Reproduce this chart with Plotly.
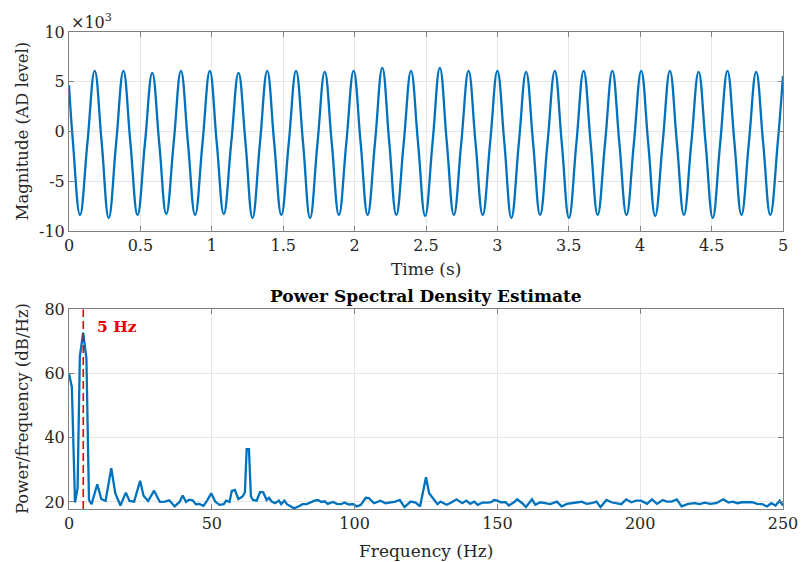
import plotly.graph_objects as go

# ---------------- data ----------------
# time signal: key points (troughs, crossings, peaks) in seconds / AD level
time_s = [0.000, 0.028,
          0.077, 0.129, 0.180, 0.229, 0.278, 0.330, 0.381, 0.430,
          0.480, 0.532, 0.583, 0.632, 0.681, 0.733, 0.784, 0.833,
          0.883, 0.935, 0.986, 1.035, 1.084, 1.136, 1.187, 1.236,
          1.285, 1.337, 1.388, 1.437, 1.487, 1.539, 1.590, 1.639,
          1.688, 1.740, 1.791, 1.840, 1.890, 1.942, 1.993, 2.042,
          2.091, 2.143, 2.194, 2.243, 2.292, 2.344, 2.395, 2.444,
          2.494, 2.546, 2.597, 2.646, 2.695, 2.747, 2.798, 2.847,
          2.897, 2.949, 3.000, 3.049, 3.098, 3.150, 3.201, 3.250,
          3.299, 3.351, 3.402, 3.451, 3.501, 3.553, 3.604, 3.653,
          3.702, 3.754, 3.805, 3.854, 3.904, 3.956, 4.007, 4.056,
          4.105, 4.157, 4.208, 4.257, 4.306, 4.358, 4.409, 4.458,
          4.508, 4.560, 4.611, 4.660, 4.709, 4.761, 4.812, 4.861,
          4.911, 4.963, 5.000]
magnitude = [4640, -1150,
             -8400, -1150, 6100, -1150, -8700, -1200, 6100, -1150,
             -8400, -1150, 5900, -1200, -8300, -1150, 6100, -1150,
             -8400, -1150, 6100, -1200, -8300, -1150, 5900, -1150,
             -8700, -1200, 6100, -1150, -8400, -1150, 6100, -1150,
             -8700, -1200, 6000, -1150, -8400, -1150, 6100, -1100,
             -8400, -1100, 6400, -1150, -8400, -1150, 6100, -1100,
             -8500, -1100, 6400, -1150, -8400, -1150, 6100, -1150,
             -8400, -1150, 6100, -1200, -8700, -1200, 6000, -1150,
             -8400, -1150, 6100, -1200, -8700, -1200, 6100, -1150,
             -8400, -1150, 6100, -1150, -8400, -1150, 6100, -1150,
             -8500, -1200, 6100, -1150, -8400, -1150, 6000, -1200,
             -8700, -1200, 6100, -1150, -8400, -1150, 6000, -1150,
             -8400, -1150, 5600]

# PSD estimate: frequency (Hz) / power (dB/Hz)
freq_hz = [0.0, 1.0, 2.1, 3.0, 3.8, 4.95, 6.1, 7.0, 7.9, 9.9, 11.3, 12.8, 14.8,
           16.2, 18.0, 19.9, 21.2, 22.8, 24.9, 26.1, 27.7, 29.8, 31.8, 33.6,
           35.1, 37.0, 38.7, 39.8, 41.0, 42.1, 43.3, 44.4, 45.6, 47.1, 48.4,
           49.8, 51.2, 52.7, 54.2, 55.0, 56.2, 57.0, 58.1, 59.3, 60.8, 61.6,
           62.2, 63.0, 63.7, 64.4, 65.7, 66.9, 68.0, 69.2, 70.0, 70.9, 72.1,
           73.5, 74.3, 75.4, 76.3, 77.5, 78.8, 80.3, 81.8, 83.2, 84.5, 86.0,
           87.2, 88.3, 89.5, 90.6, 92.4, 93.8, 95.3, 96.4, 98.1, 99.6, 100.8,
           102.2, 103.9, 105.0, 106.8, 109.1, 110.8, 112.6, 114.3, 115.8,
           117.5, 119.6, 121.4, 122.9, 125.0, 126.1, 127.6, 129.0, 130.1,
           132.2, 133.9, 135.7, 137.7, 139.1, 140.5, 141.9, 143.1, 144.8,
           146.6, 147.8, 148.9, 150.0, 151.1, 152.9, 154.0, 155.8, 156.9,
           158.7, 160.0, 162.1, 163.3, 165.0, 166.7, 168.5, 170.8, 172.5,
           174.3, 176.6, 178.3, 179.5, 181.2, 183.0, 184.7, 186.1, 188.2,
           189.9, 191.6, 193.4, 195.1, 196.9, 198.6, 200.3, 202.4, 204.1,
           205.9, 207.9, 209.3, 211.0, 212.8, 214.5, 216.8, 219.1, 220.8,
           222.6, 224.5, 226.6, 229.1, 230.9, 232.3, 234.1, 235.6, 237.5,
           239.2, 241.0, 242.7, 244.4, 245.9, 247.4, 248.8, 250.0]
psd_db = [60.0, 55.7, 19.8, 24.3, 65.2, 72.7, 64.7, 20.6, 19.3, 25.5, 20.9, 20.3, 30.5,
          22.7, 18.9, 22.9, 20.3, 20.1, 26.6, 21.9, 20.3, 23.5, 20.0, 20.1,
          20.5, 18.6, 20.0, 22.0, 20.0, 20.7, 20.5, 19.3, 19.4, 18.8, 20.5,
          22.7, 20.1, 19.1, 19.3, 20.4, 20.0, 23.4, 23.7, 20.9, 21.7, 23.0,
          36.4, 36.4, 21.7, 20.6, 20.4, 23.1, 23.0, 20.6, 21.3, 20.2, 19.6,
          20.4, 19.3, 20.4, 19.3, 18.7, 18.0, 18.6, 19.3, 19.3, 19.9, 20.4,
          20.6, 20.0, 20.2, 19.4, 20.0, 19.4, 19.3, 19.8, 19.2, 19.3, 18.6,
          19.1, 21.3, 21.2, 19.6, 20.4, 19.6, 19.9, 20.1, 20.6,
          18.4, 20.1, 19.8, 18.6, 27.7, 22.7, 20.9, 19.3, 20.1,
          19.1, 19.8, 20.8, 19.6, 20.4, 19.4, 20.1, 19.1, 19.8,
          19.8, 19.9, 20.6, 20.4, 19.9, 19.9, 18.9, 19.9, 20.8,
          19.6, 18.4, 20.8, 19.1, 19.9, 19.6, 19.3, 20.1, 18.6,
          19.4, 19.6, 19.9, 20.1, 19.4, 19.6, 20.1, 18.4, 20.6,
          19.9, 19.6, 19.3, 20.8, 19.9, 20.4, 20.4, 19.4, 20.8,
          19.4, 20.6, 20.1, 20.1, 20.8, 18.6, 19.4, 19.6, 19.3,
          19.8, 19.4, 19.6, 20.8, 19.8, 20.1, 19.6, 19.9, 19.8,
          19.9, 19.4, 19.3, 18.6, 19.6, 18.9, 20.4, 18.9]

marker_freq = 5
marker_label = "5 Hz"

time_ticks = [0, 0.5, 1, 1.5, 2, 2.5, 3, 3.5, 4, 4.5, 5]
mag_ticks = [-10000, -5000, 0, 5000, 10000]
mag_ticktext = ["-10", "-5", "0", "5", "10"]
freq_ticks = [0, 50, 100, 150, 200, 250]
psd_ticks = [20, 40, 60, 80]

# ---------------- figure ----------------
BLUE = "#0072BD"
RED = "#E60000"
TXT = "#262626"
AX = "#808080"
GRID = "#E6E6E6"
FONT = "DejaVu Serif"

fig = go.Figure()
fig.add_trace(go.Scatter(x=time_s, y=magnitude, mode="lines",
                         line=dict(color=BLUE, width=2.3, shape="spline", smoothing=1.2),
                         xaxis="x", yaxis="y", showlegend=False, hoverinfo="skip"))
fig.add_trace(go.Scatter(x=freq_hz, y=psd_db, mode="lines",
                         line=dict(color=BLUE, width=2.3),
                         xaxis="x2", yaxis="y2", showlegend=False, hoverinfo="skip"))
fig.add_trace(go.Scatter(x=[marker_freq, marker_freq], y=[17.8, 80], mode="lines",
                         line=dict(color=RED, width=1.6, dash="8px,4px"),
                         xaxis="x2", yaxis="y2", showlegend=False, hoverinfo="skip"))

axis_common = dict(showline=True, linecolor=AX, linewidth=1, mirror="ticks",
                   ticks="inside", ticklen=5, tickcolor=AX,
                   showgrid=True, gridcolor=GRID, gridwidth=1, zeroline=False,
                   tickfont=dict(family=FONT, size=16, color=TXT))

fig.update_layout(
    width=810, height=562,
    margin=dict(l=69, r=17, t=32, b=53),
    paper_bgcolor="white", plot_bgcolor="white",
    font=dict(family=FONT, color=TXT, size=16),
    xaxis=dict(domain=[0, 1], anchor="y", range=[0, 5], tickvals=time_ticks,
               ticktext=[("%g" % v) for v in time_ticks], **axis_common),
    yaxis=dict(domain=[0.583, 1], anchor="x", range=[-10000, 10000],
               tickvals=mag_ticks, ticktext=mag_ticktext, **axis_common),
    xaxis2=dict(domain=[0, 1], anchor="y2", range=[0, 250], tickvals=freq_ticks,
                **axis_common),
    yaxis2=dict(domain=[0, 0.419], anchor="x2", range=[17.8, 80], tickvals=psd_ticks,
                **axis_common),
)

ann = [
    dict(text="×10<sup>3</sup>", x=0, y=1, xref="paper", yref="paper",
         xanchor="left", yanchor="bottom", yshift=-2, showarrow=False,
         font=dict(family=FONT, size=16, color=TXT)),
    dict(text="Time (s)", x=0.5, y=0.583, xref="paper", yref="paper",
         xanchor="center", yanchor="middle", yshift=-38, showarrow=False,
         font=dict(family=FONT, size=17, color=TXT)),
    dict(text="Frequency (Hz)", x=0.5, y=0, xref="paper", yref="paper",
         xanchor="center", yanchor="middle", yshift=-42, showarrow=False,
         font=dict(family=FONT, size=17, color=TXT)),
    dict(text="Magnitude (AD level)", x=0, y=0.7915, xref="paper", yref="paper",
         xanchor="center", yanchor="middle", xshift=-47, textangle=-90, showarrow=False,
         font=dict(family=FONT, size=16.5, color=TXT)),
    dict(text="Power/frequency (dB/Hz)", x=0, y=0.2095, xref="paper", yref="paper",
         xanchor="center", yanchor="middle", xshift=-47, textangle=-90, showarrow=False,
         font=dict(family=FONT, size=16.5, color=TXT)),
    dict(text="<b>Power Spectral Density Estimate</b>", x=0.5, y=0.419, xref="paper",
         yref="paper", xanchor="center", yanchor="bottom", yshift=1, showarrow=False,
         font=dict(family=FONT, size=17, color="black")),
    dict(text="<b>%s</b>" % marker_label, x=9, y=74.7, xref="x2", yref="y2",
         xanchor="left", yanchor="middle", showarrow=False,
         font=dict(family=FONT, size=15.5, color=RED)),
]
fig.update_layout(annotations=ann)

fig.write_html("out.html")
